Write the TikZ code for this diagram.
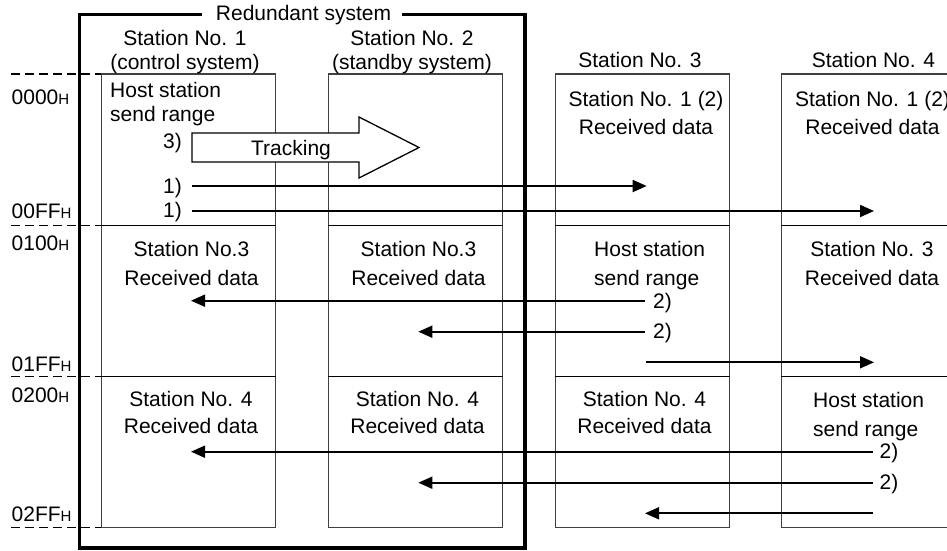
\documentclass[tikz,border=0pt]{standalone}
\usepackage{fontspec}
\setmainfont{Liberation Sans}
\usetikzlibrary{arrows.meta}
\newcommand\myH{{\fontsize{15}{15}\selectfont H}}
\tikzset{
  col/.style={draw=black!75, line width=1.2pt, minimum width=174pt, minimum height=453.3pt, inner sep=0pt},
  divline/.style={line width=1.5pt, black},
  dashline/.style={line width=1.3pt, dash pattern=on 9pt off 5pt},
  flow/.style={line width=1.8pt, -{Triangle[length=14pt,width=12pt]}},
  frame/.style={line width=3.8pt, line join=miter},
  txt/.style={font=\fontsize{21}{25}\selectfont, inner sep=0pt, anchor=base},
  lbl/.style={txt, anchor=base west},
}
\begin{document}
\begin{tikzpicture}[x=1pt,y=-1pt]
\useasboundingbox (0,0) rectangle (947,550);
\clip (0,0) rectangle (947,550);
% columns
\node[col] (c1) at (188.7,300.65) {};
\node[col] (c2) at (415.3,300.65) {};
\node[col] (c3) at (642.2,300.65) {};
\node[col] (c4) at (868.7,300.65) {};
% dividers
\foreach \c in {c1,c2,c3,c4}{
  \draw[divline] (\c.west |- 0,225.7) -- (\c.east |- 0,225.7);
  \draw[divline] (\c.west |- 0,376.7) -- (\c.east |- 0,376.7);
}
% dashed address lines
\foreach \yy in {74,225.7,376.7,527.3}{
  \draw[dashline] (11,\yy) -- (c1.west |- 0,\yy);
}
% data flow arrows
\coordinate (a1s) at (192,186);   \coordinate (a1e) at (646.7,186);
\coordinate (a2s) at (192,211);   \coordinate (a2e) at (874,211);
\coordinate (b1s) at (645,300.7); \coordinate (b1e) at (191,300.7);
\coordinate (b2s) at (645,331.7); \coordinate (b2e) at (418.3,331.7);
\coordinate (b3s) at (645.7,362.3); \coordinate (b3e) at (874,362.3);
\coordinate (d1s) at (872.7,451.7); \coordinate (d1e) at (191,451.7);
\coordinate (d2s) at (872.7,482.7); \coordinate (d2e) at (418.3,482.7);
\coordinate (d3s) at (872.7,513.3); \coordinate (d3e) at (645,513.3);
\draw[flow] (a1s) -- (a1e);
\draw[flow] (a2s) -- (a2e);
\draw[flow] (b1s) -- (b1e);
\draw[flow] (b2s) -- (b2e);
\draw[flow] (b3s) -- (b3e);
\draw[flow] (d1s) -- (d1e);
\draw[flow] (d2s) -- (d2e);
\draw[flow] (d3s) -- (d3e);
% tracking arrow
\draw[line width=1.3pt, fill=white, line join=miter] (192,133) -- (359,133) -- (359,117) -- (419,147.5) -- (359,178) -- (359,162) -- (192,162) -- cycle;
\node[txt] (trk) at (291,155) {Tracking};
% redundant system frame
\node[txt] (red) at (303.5,20.5) {Redundant system};
\draw[frame] (202,14.5) -- (79.5,14.5) -- (79.5,548.3) -- (525.3,548.3) -- (525.3,14.5) -- (402,14.5);
% headers
\node[txt] (h1a) at (185,45.5) {Station No. 1};
\node[txt] (h1b) at (185,69) {(control system)};
\node[txt] (h2a) at (412,45.5) {Station No. 2};
\node[txt] (h2b) at (412,69) {(standby system)};
\node[txt] (h3) at (640,67.5) {Station No. 3};
\node[txt] (h4) at (873.5,67.5) {Station No. 4};
% address labels
\node[lbl] (l0) at (11.5,104) {0000\myH};
\node[lbl] (l1) at (11.5,218) {00FF\myH};
\node[lbl] (l2) at (11.5,250) {0100\myH};
\node[lbl] (l3) at (11.5,371.7) {01FF\myH};
\node[lbl] (l4) at (11.5,402.7) {0200\myH};
\node[lbl] (l5) at (11.5,521.7) {02FF\myH};
% station 1 cells
\node[lbl] (s1a) at (110,97) {Host station};
\node[lbl] (s1b) at (110,121) {send range};
\node[txt] (s1c) at (191.5,256.7) {Station No.3};
\node[txt] (s1d) at (191.5,285) {Received data};
\node[txt] (s1e) at (191,406) {Station No. 4};
\node[txt] (s1f) at (191,433.3) {Received data};
% station 2 cells
\node[txt] (s2c) at (418.5,256.7) {Station No.3};
\node[txt] (s2d) at (418.5,285) {Received data};
\node[txt] (s2e) at (417.5,406) {Station No. 4};
\node[txt] (s2f) at (417.5,433.3) {Received data};
% station 3 cells
\node[txt] (s3a) at (646,106.7) {Station No. 1 (2)};
\node[txt] (s3b) at (646,134) {Received data};
\node[lbl] (s3c) at (594,256.7) {Host station};
\node[lbl] (s3d) at (594,285) {send range};
\node[txt] (s3e) at (644.5,406) {Station No. 4};
\node[txt] (s3f) at (644.5,433.3) {Received data};
% station 4 cells
\node[txt] (s4a) at (872.5,106.7) {Station No. 1 (2)};
\node[txt] (s4b) at (872.5,134) {Received data};
\node[txt] (s4c) at (872,256.7) {Station No. 3};
\node[txt] (s4d) at (872,285) {Received data};
\node[lbl] (s4e) at (813,407.3) {Host station};
\node[lbl] (s4f) at (813,436) {send range};
% step numbers
\node[txt, anchor=base east] (n3) at (182,148) {3)};
\node[txt, anchor=base east] (n1a) at (182,193) {1)};
\node[txt, anchor=base east] (n1b) at (182,217) {1)};
\node[lbl] (n2a) at (653,308) {2)};
\node[lbl] (n2b) at (653,338.5) {2)};
\node[lbl] (n2c) at (879.5,458.5) {2)};
\node[lbl] (n2d) at (879.5,489.5) {2)};
\end{tikzpicture}
\end{document}
